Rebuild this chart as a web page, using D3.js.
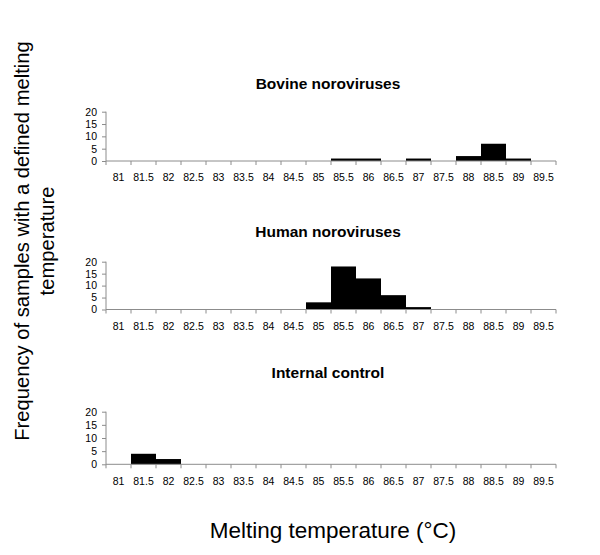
<!DOCTYPE html>
<html>
<head>
<meta charset="utf-8">
<script src="https://cdn.jsdelivr.net/npm/d3@7"></script>
<style>
  html, body { margin: 0; padding: 0; background: #fff; }
  svg { display: block; font-family: "Liberation Sans", Arial, sans-serif; }
</style>
</head>
<body>
<svg id="chart" width="600" height="555"></svg>
<script>
const categories = ["81","81.5","82","82.5","83","83.5","84","84.5","85","85.5","86","86.5","87","87.5","88","88.5","89","89.5"];
const bovine   = [0,0,0,0,0,0,0,0,0,1,1,0,1,0,2,7,1,0];
const human    = [0,0,0,0,0,0,0,0,3,18,13,6,1,0,0,0,0,0];
const internal = [0,4,2,0,0,0,0,0,0,0,0,0,0,0,0,0,0,0];
const yTicks = [0,5,10,15,20];
const panelTitles = ["Bovine noroviruses","Human noroviruses","Internal control"];
const seriesList = [bovine, human, internal];
const yTitleLines = ["Frequency of samples with a defined melting","temperature"];
const xTitle = "Melting temperature (°C)";

const svg = d3.select("#chart");
const axisColor = "#8c8c8c";

// layout per panel: [titleBaseline, yTop(20), yBottom(0)]
const layout = [
  [89, 111.7, 161],
  [237, 261.7, 309.5],
  [378, 411.7, 464.3]
];

const x = d3.scaleBand().domain(categories).range([106, 556]).paddingInner(0).paddingOuter(0);

seriesList.forEach((vals, i) => {
  const [tb, yt, yb] = layout[i];
  const y = d3.scaleLinear().domain([0, 20]).range([yb, yt]);
  const g = svg.append("g");

  g.append("text")
    .attr("x", 328).attr("y", tb)
    .attr("text-anchor", "middle")
    .attr("font-weight", "bold")
    .attr("font-size", 15.5)
    .text(panelTitles[i]);

  // bars
  g.selectAll("rect.bar").data(vals.map((v, k) => ({c: categories[k], v})).filter(d => d.v > 0))
    .enter().append("rect")
    .attr("class", "bar")
    .attr("x", d => x(d.c))
    .attr("width", x.bandwidth())
    .attr("y", d => y(d.v))
    .attr("height", d => y(0) - y(d.v))
    .attr("fill", "#000");

  // y axis
  const ya = d3.axisLeft(y).tickValues(yTicks).tickSize(4).tickPadding(5);
  const yg = g.append("g").attr("transform", `translate(106,0)`).call(ya);
  yg.select(".domain").attr("stroke", axisColor).attr("d", `M0,${yt}V${yb}`);
  yg.selectAll(".tick line").attr("stroke", axisColor);
  yg.selectAll(".tick text").attr("font-size", 10.5).attr("fill", "#000").attr("font-family", "Liberation Sans, Arial, sans-serif");

  // x axis
  const xa = d3.axisBottom(x).tickSize(0).tickPadding(13);
  const xg = g.append("g").attr("transform", `translate(0,${yb})`).call(xa);
  xg.select(".domain").attr("stroke", axisColor).attr("d", "M106,0H556");
  xg.selectAll(".tick text").attr("font-size", 10.5).attr("fill", "#000").attr("font-family", "Liberation Sans, Arial, sans-serif");
  // boundary ticks
  const bounds = categories.map(c => x(c)).concat([x(categories[categories.length-1]) + x.bandwidth()]);
  xg.selectAll("line.btick").data(bounds).enter().append("line")
    .attr("class", "btick")
    .attr("x1", d => d).attr("x2", d => d)
    .attr("y1", 0).attr("y2", 4)
    .attr("stroke", axisColor);
});

// y title
const yt = svg.append("text")
  .attr("transform", "translate(0,241) rotate(-90)")
  .attr("text-anchor", "middle")
  .attr("font-size", 20.2);
yt.append("tspan").attr("x", 0).attr("y", 29).text(yTitleLines[0]);
yt.append("tspan").attr("x", 0).attr("y", 54).text(yTitleLines[1]);

// x title
svg.append("text")
  .attr("x", 333).attr("y", 538)
  .attr("text-anchor", "middle")
  .attr("font-size", 22.5)
  .text(xTitle);
</script>
</body>
</html>
